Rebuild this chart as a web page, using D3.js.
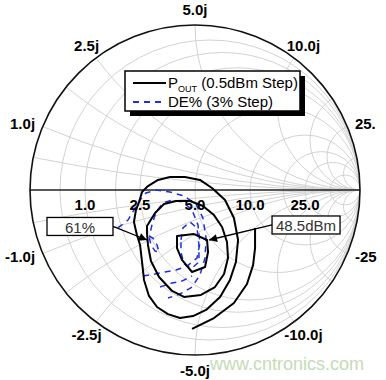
<!DOCTYPE html>
<html>
<head>
<meta charset="utf-8">
<script src="https://cdn.jsdelivr.net/npm/d3@7/dist/d3.min.js"></script>
<style>
  body { margin: 0; background: #fff; }
  svg { display: block; font-family: Arial, "Liberation Sans", sans-serif; }
</style>
</head>
<body>
<div id="chart"></div>
<script>
// reference impedance (ohms) used for the labels
const Z0 = 5;

// labelled resistance / reactance values, in ohms
const resTicks = [1.0, 2.5, 5.0, 10.0, 25.0];
const resLabels = ["1.0", "2.5", "5.0", "10.0", "25.0"];
const reacTicks = [1.0, 2.5, 5.0, 10.0, 25.0];
const reacLabelsPos = ["1.0j", "2.5j", "5.0j", "10.0j", "25."];
const reacLabelsNeg = ["-1.0j", "-2.5j", "-5.0j", "-10.0j", "-25"];

// normalised grid values
const gridR = [0.1, 0.2, 0.35, 0.5, 1, 2, 3.3, 5, 10];
const gridX = [0.1, 0.2, 0.35, 0.5, 1, 2, 3.3, 5, 10];

// load-pull contours, reflection coefficient [re, im]
const poutInner = [[-0.109,-0.279],[-0.006,-0.267],[0.073,-0.303],[0.079,-0.376],[0.061,-0.467],
  [-0.018,-0.497],[-0.079,-0.424],[-0.109,-0.352]];
const poutMid = [[-0.291,-0.218],[-0.242,-0.139],[-0.188,-0.085],[-0.115,-0.067],[-0.030,-0.067],
  [0.048,-0.097],[0.115,-0.152],[0.164,-0.224],[0.194,-0.315],[0.200,-0.412],[0.176,-0.509],
  [0.121,-0.588],[0.036,-0.636],[-0.067,-0.648],[-0.139,-0.612],[-0.218,-0.527],[-0.267,-0.430],
  [-0.285,-0.333],[-0.291,-0.261]];
const poutOuter = [[-0.321,-0.012],[-0.285,0.024],[-0.224,0.061],[-0.152,0.079],[-0.061,0.079],
  [0.030,0.061],[0.103,0.012],[0.182,-0.061],[0.236,-0.170],[0.261,-0.303],[0.248,-0.436],
  [0.212,-0.545],[0.152,-0.648],[0.067,-0.727],[-0.012,-0.764],[-0.091,-0.776],[-0.164,-0.752],
  [-0.230,-0.709],[-0.279,-0.642],[-0.309,-0.545],[-0.321,-0.436],[-0.333,-0.333],[-0.352,-0.273],
  [-0.370,-0.194],[-0.358,-0.121],[-0.339,-0.073]];
const poutArc = [[0.364,-0.230],[0.364,-0.352],[0.352,-0.455],[0.315,-0.570],[0.236,-0.685],
  [0.115,-0.776],[-0.018,-0.842]];

const de61 = [[-0.279,-0.279],[-0.255,-0.291],[-0.230,-0.333],[-0.218,-0.376],[-0.242,-0.370],[-0.267,-0.333]];
const deA = [[-0.085,-0.303],[-0.073,-0.230],[-0.030,-0.194],[0.012,-0.230],[0.024,-0.333],
  [0.024,-0.436],[-0.018,-0.473],[-0.067,-0.448],[-0.085,-0.376]];
const deB = [[-0.315,-0.521],[-0.242,-0.509],[-0.182,-0.497],[-0.115,-0.485],[-0.048,-0.461],
  [0.012,-0.412],[0.030,-0.321],[0.018,-0.212],[-0.018,-0.121],[-0.073,-0.073],[-0.139,-0.061],
  [-0.194,-0.079],[-0.236,-0.133],[-0.261,-0.212],[-0.273,-0.267]];
const deC = [[-0.212,-0.588],[-0.139,-0.564],[-0.079,-0.552],[-0.018,-0.521]];
const deD = [[-0.467,-0.230],[-0.406,-0.182],[-0.370,-0.121],[-0.333,-0.061],[-0.297,-0.018],
  [-0.236,0],[-0.152,-0.012],[-0.067,-0.036],[0.006,-0.085],[0.048,-0.170],[0.067,-0.291],
  [0.061,-0.412],[0.030,-0.515],[-0.018,-0.588],[-0.091,-0.630],[-0.164,-0.655]];

const width = 386, height = 380;

let xs = d3.scaleLinear().domain([-1, 1]).range([30, 360]);
let ys = d3.scaleLinear().domain([-1, 1]).range([355, 25]);
let unit = xs(1) - xs(0);

let svg = d3.select("#chart").append("svg")
    .attr("width", width)
    .attr("height", height);

let defs = svg.append("defs");
defs.append("clipPath").attr("id", "disk")
  .append("circle")
    .attr("cx", xs(0)).attr("cy", ys(0)).attr("r", unit);

defs.append("marker")
    .attr("id", "arrow")
    .attr("viewBox", "0 0 10 10")
    .attr("refX", 10).attr("refY", 5)
    .attr("markerWidth", 11).attr("markerHeight", 8)
    .attr("markerUnits", "userSpaceOnUse")
    .attr("orient", "auto")
  .append("path")
    .attr("d", "M0,0L10,5L0,10z")
    .attr("fill", "#000");

/* grid */
let grid = svg.append("g").attr("clip-path", "url(#disk)")
    .attr("fill", "none").attr("stroke", "#d2d2d2").attr("stroke-width", 1);

grid.selectAll(".rcirc").data(gridR).enter()
  .append("circle")
    .attr("class", "rcirc")
    .attr("cx", function(r) { return xs(r / (1 + r)); })
    .attr("cy", ys(0))
    .attr("r", function(r) { return unit / (1 + r); });

grid.selectAll(".xarc").data(gridX.concat(gridX.map(function(x) { return -x; }))).enter()
  .append("circle")
    .attr("class", "xarc")
    .attr("cx", xs(1))
    .attr("cy", function(x) { return ys(1 / x); })
    .attr("r", function(x) { return unit / Math.abs(x); });

/* real axis and outer circle */
svg.append("line")
    .attr("x1", xs(-1)).attr("x2", xs(1))
    .attr("y1", ys(0)).attr("y2", ys(0))
    .attr("stroke", "#222").attr("stroke-width", 1.5);

svg.append("circle")
    .attr("cx", xs(0)).attr("cy", ys(0)).attr("r", unit)
    .attr("fill", "none").attr("stroke", "#111").attr("stroke-width", 1.6);

/* contours */
let line = d3.line().x(function(d) { return xs(d[0]); }).y(function(d) { return ys(d[1]); });
let closed = d3.line().x(function(d) { return xs(d[0]); }).y(function(d) { return ys(d[1]); })
    .curve(d3.curveLinearClosed);

let deG = svg.append("g").attr("fill", "none").attr("stroke", "#1f2fe8")
    .attr("stroke-width", 1.5).attr("stroke-dasharray", "6,5");
deG.append("path").attr("d", closed(de61));
deG.append("path").attr("d", closed(deA));
deG.append("path").attr("d", line(deB));
deG.append("path").attr("d", line(deC));
deG.append("path").attr("d", line(deD));

let pG = svg.append("g").attr("fill", "none").attr("stroke", "#000")
    .attr("stroke-width", 2).attr("stroke-linejoin", "round");
pG.append("path").attr("d", closed(poutInner));
pG.append("path").attr("d", closed(poutMid));
pG.append("path").attr("d", closed(poutOuter));
pG.append("path").attr("d", line(poutArc));

/* resistance labels */
svg.selectAll(".rlab").data(resTicks).enter()
  .append("text")
    .attr("class", "rlab")
    .attr("x", function(d) { let r = d / Z0; return xs((r - 1) / (r + 1)); })
    .attr("y", ys(0) + 14)
    .attr("text-anchor", "middle")
    .attr("dominant-baseline", "central")
    .attr("font-size", 15).attr("font-weight", "bold")
    .text(function(d, i) { return resLabels[i]; });

/* reactance labels */
function reacPos(d, sign) {
  let x = d / Z0;
  let ang = Math.PI - 2 * Math.atan(x);
  let side = Math.abs(Math.cos(ang)) > 0.85;
  let rad = side ? 1.05 : 1.095;
  return { x: xs(rad * Math.cos(ang)), y: ys(sign * rad * Math.sin(ang)),
           anchor: side ? (Math.cos(ang) < 0 ? "end" : "start") : "middle" };
}

[[1, reacLabelsPos], [-1, reacLabelsNeg]].forEach(function(s) {
  svg.selectAll(".xlab" + s[0]).data(reacTicks).enter()
    .append("text")
      .attr("x", function(d) { return reacPos(d, s[0]).x; })
      .attr("y", function(d) { return reacPos(d, s[0]).y; })
      .attr("text-anchor", function(d) { return reacPos(d, s[0]).anchor; })
      .attr("dominant-baseline", "central")
      .attr("font-size", 15).attr("font-weight", "bold")
      .text(function(d, i) { return s[1][i]; });
});

/* annotations */
function callout(label, center, tip, w, side) {
  let cx = xs(center[0]), cy = ys(center[1]);
  let g = svg.append("g");
  let ex = side === "left" ? cx + w / 2 : cx - w / 2;
  g.append("line")
      .attr("x1", ex).attr("y1", cy)
      .attr("x2", xs(tip[0])).attr("y2", ys(tip[1]))
      .attr("stroke", "#000").attr("stroke-width", 1.3)
      .attr("marker-end", "url(#arrow)");
  g.append("rect")
      .attr("x", cx - w / 2).attr("y", cy - 9)
      .attr("width", w).attr("height", 18)
      .attr("fill", "#fff").attr("stroke", "#000").attr("stroke-width", 1.3);
  g.append("text")
      .attr("x", cx).attr("y", cy + 1)
      .attr("text-anchor", "middle").attr("dominant-baseline", "central")
      .attr("font-size", 15).attr("fill", "#333")
      .text(label);
}
callout("61%", [-0.697, -0.221], [-0.291, -0.303], 66, "left");
callout("48.5dBm", [0.673, -0.212], [0.085, -0.303], 68, "right");

/* legend */
let lg = svg.append("g").attr("transform", "translate(125,71)");
lg.append("rect").attr("x", 5).attr("y", 5).attr("width", 175).attr("height", 40).attr("fill", "#000");
lg.append("rect").attr("x", 0).attr("y", 0).attr("width", 175).attr("height", 40)
    .attr("fill", "#fff").attr("stroke", "#000").attr("stroke-width", 1.5);
lg.append("line").attr("x1", 8).attr("x2", 41).attr("y1", 12).attr("y2", 12)
    .attr("stroke", "#000").attr("stroke-width", 2);
lg.append("line").attr("x1", 8).attr("x2", 41).attr("y1", 31).attr("y2", 31)
    .attr("stroke", "#1f2fe8").attr("stroke-width", 2).attr("stroke-dasharray", "6,5");
let t1 = lg.append("text").attr("x", 43).attr("y", 17).attr("font-size", 15);
t1.append("tspan").text("P");
t1.append("tspan").attr("font-size", 9).attr("dy", 4).text("OUT");
t1.append("tspan").attr("dy", -4).text(" (0.5dBm Step)");
lg.append("text").attr("x", 43).attr("y", 36).attr("font-size", 15).text("DE% (3% Step)");

/* watermark */
svg.append("text")
    .attr("x", 210).attr("y", 370)
    .attr("font-size", 18).attr("fill", "#c5dbb5")
    .text("www.cntronics.com");
</script>
</body>
</html>
